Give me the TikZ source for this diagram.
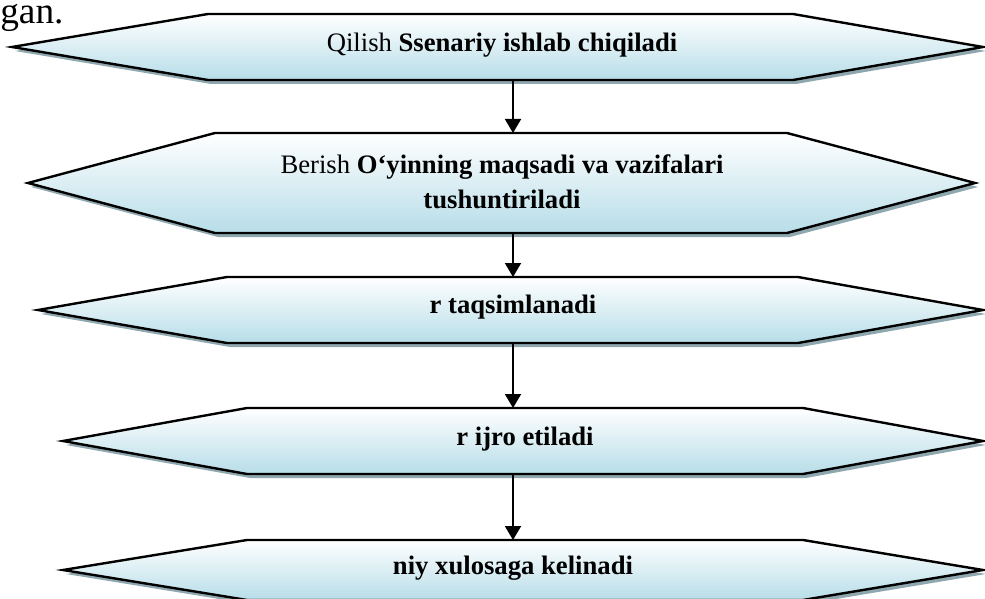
\documentclass[tikz,border=0pt]{standalone}
\usepackage{fontspec}
\setmainfont{Liberation Serif}
\usetikzlibrary{arrows.meta}

\definecolor{hexblue}{RGB}{183,221,232}
\definecolor{hexshadow}{RGB}{143,168,175}

\tikzset{
    hexline/.style={draw=black, line width=1.8pt, line join=miter, top color=white, bottom color=hexblue},
    hexshade/.style={fill=hexshadow, shift={(3,4)}},
    hextext/.style={inner sep=0pt, text centered, font=\fontsize{20}{26}\selectfont},
    flowarrow/.style={line width=1.4pt, -{Triangle[length=10.5pt, width=12pt]}}
}

\begin{document}
\begin{tikzpicture}[x=0.75pt, y=-0.75pt]
    \useasboundingbox (0,0) rectangle (985,599);

    % hexagons: number / left tip / left corner / right corner / right tip / top / bottom
    \foreach \n/\lt/\lc/\rc/\rt/\tp/\bt in {1/12/208/793/983/14/80, 2/28/215/787/975/133/233, 3/38/227/798/983/277/343, 4/63/247/803/983/408/474, 5/63/247/803/983/540/600} {
        \pgfmathsetmacro{\my}{(\tp+\bt)/2}
        \fill [hexshade] (\lt,\my) -- (\lc,\tp) -- (\rc,\tp) -- (\rt,\my) -- (\rc,\bt) -- (\lc,\bt) -- cycle;
        \path [hexline] (\lt,\my) -- (\lc,\tp) -- (\rc,\tp) -- (\rt,\my) -- (\rc,\bt) -- (\lc,\bt) -- cycle;
        \coordinate (h\n-top) at (513,\tp);
        \coordinate (h\n-bot) at (513,\bt);
    }

    \node [anchor=base west, inner sep=0pt, font=\fontsize{28}{32}\selectfont] (gan) at (0,24) {gan.};

    \node [hextext] (qilish) at (502,45) {Qilish \textbf{Ssenariy ishlab chiqiladi}};
    \node [hextext, align=center] (berish) at (502,182) {Berish \textbf{O‘yinning maqsadi va vazifalari}\\\textbf{tushuntiriladi}};
    \node [hextext] (taqsim) at (513,307) {\textbf{r taqsimlanadi}};
    \node [hextext] (ijro) at (525,439) {\textbf{r ijro etiladi}};
    \node [hextext] (xulosa) at (513,568) {\textbf{niy xulosaga kelinadi}};

    \draw [flowarrow] (h1-bot) -- (h2-top);
    \draw [flowarrow] (h2-bot) -- (h3-top);
    \draw [flowarrow] (h3-bot) -- (h4-top);
    \draw [flowarrow] (h4-bot) -- (h5-top);
\end{tikzpicture}
\end{document}
